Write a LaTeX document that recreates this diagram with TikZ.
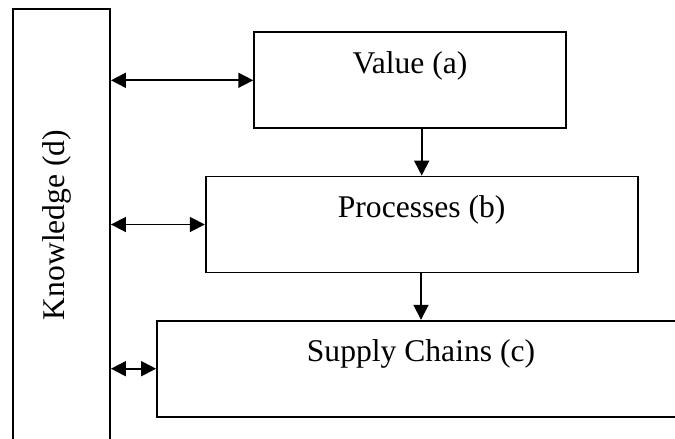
\documentclass[tikz,border=0pt]{standalone}
\usepackage{fontspec}
\setmainfont{Liberation Serif}
\usetikzlibrary{arrows.meta}

\begin{document}
\begin{tikzpicture}[x=1pt, y=-1pt, line width=1.8pt,
  every node/.style={font=\fontsize{31.6}{38}\selectfont},
  blocco/.style={rectangle, draw, inner sep=0pt, text height=41pt, text depth=55pt},
  freccia/.style={-{Triangle[length=15pt,width=15pt]}},
  doppia/.style={{Triangle[length=15pt,width=15pt]}-{Triangle[length=15pt,width=15pt]}}]

\useasboundingbox (0,0) rectangle (675,439);

% Posizioni dei nodi
\node[rectangle, draw, minimum width=96.7pt, minimum height=432pt] (know) at (61.7,225) {};
\node[rotate=90, anchor=base] (knowtext) at (64.2,225) {Knowledge (d)};
\node[blocco, minimum width=311.7pt] (val) at (410,80.3) {Value (a)};
\node[blocco, minimum width=432pt] (proc) at (421.7,224.5) {Processes (b)};
\node[blocco, minimum width=528pt] (sup) at (421,368.7) {Supply Chains (c)};

% Archi
\draw[doppia] (know.east |- val.west) -- (val.west);
\draw[doppia] (know.east |- proc.west) -- (proc.west);
\draw[doppia] (know.east |- sup.west) -- (sup.west);
\draw[freccia] (val.south -| proc.north) -- (proc.north);
\draw[freccia] (sup.north |- proc.south) -- (sup.north);
\end{tikzpicture}
\end{document}
